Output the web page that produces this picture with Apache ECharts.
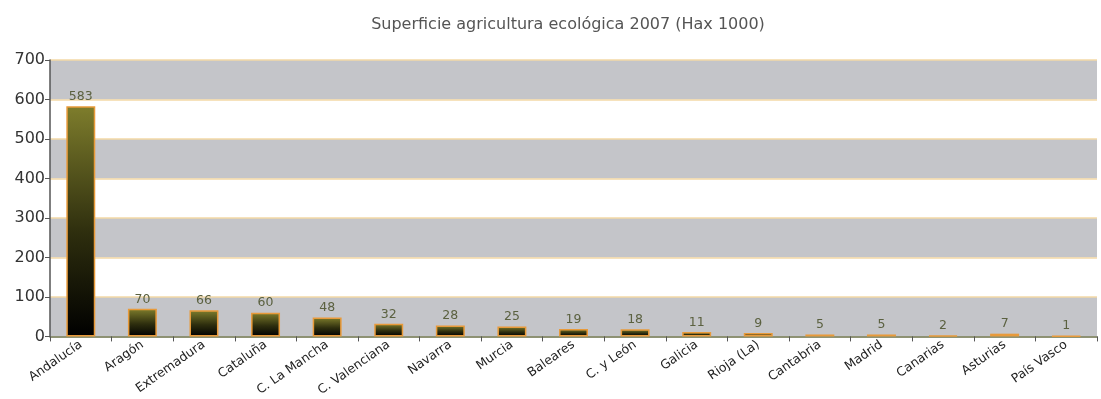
<!DOCTYPE html>
<html>
<head>
<meta charset="utf-8">
<style>
  html, body { margin: 0; padding: 0; background: #ffffff; }
  #chart { width: 1101px; height: 399px; }
</style>
<script src="https://cdn.jsdelivr.net/npm/echarts@6/dist/echarts.min.js"></script>
</head>
<body>
<div id="chart"></div>
<script>
// Organic farming area by region, 2007 (thousands of hectares)
const regions = ['Andalucía', 'Aragón', 'Extremadura', 'Cataluña', 'C. La Mancha', 'C. Valenciana',
  'Navarra', 'Murcia', 'Baleares', 'C. y León', 'Galicia', 'Rioja (La)', 'Cantabria', 'Madrid',
  'Canarias', 'Asturias', 'País Vasco'];
const hectares = [583, 70, 66, 60, 48, 32, 28, 25, 19, 18, 11, 9, 5, 5, 2, 7, 1];
const chartTitle = 'Superficie agricultura ecológica 2007 (Hax 1000)';

const font = '"DejaVu Sans", sans-serif';
const chart = echarts.init(document.getElementById('chart'));
chart.setOption({
  animation: false,
  title: {
    text: chartTitle,
    left: 563,
    top: 12,
    textAlign: 'center',
    textStyle: { fontFamily: font, fontSize: 16, fontWeight: 'normal', color: '#555555' }
  },
  grid: { left: 50, right: 4, top: 60, bottom: 61 },
  xAxis: {
    type: 'category',
    data: regions,
    axisLine: { lineStyle: { color: '#6e7a5e', width: 1.5 } },
    axisTick: { show: true, length: 5, lineStyle: { color: '#555555' } },
    axisLabel: {
      rotate: 35,
      interval: 0,
      margin: 7,
      fontFamily: font,
      fontSize: 12.5,
      color: '#222222'
    }
  },
  yAxis: {
    type: 'value',
    min: 0,
    max: 700,
    interval: 100,
    axisLine: { show: true, lineStyle: { color: '#555555', width: 1.5 } },
    axisTick: { show: true, length: 5, lineStyle: { color: '#555555' } },
    axisLabel: { fontFamily: font, fontSize: 16, color: '#333333', margin: 5 },
    splitLine: { show: true, lineStyle: { color: '#f3d9a6', width: 1.5 } },
    splitArea: { show: true, areaStyle: { color: ['#c4c5c9', '#ffffff'] } }
  },
  series: [{
    type: 'bar',
    data: hectares,
    barWidth: '47%',
    itemStyle: {
      color: new echarts.graphic.LinearGradient(0, 0, 0, 1, [
        { offset: 0, color: '#7e7d2c' },
        { offset: 0.55, color: '#2e2e0e' },
        { offset: 1, color: '#000000' }
      ]),
      borderColor: '#e89a3a',
      borderWidth: 1.5
    },
    label: {
      show: true,
      position: 'top',
      distance: 3,
      fontFamily: font,
      fontSize: 12.5,
      color: '#5b6140'
    }
  }]
});
</script>
</body>
</html>
